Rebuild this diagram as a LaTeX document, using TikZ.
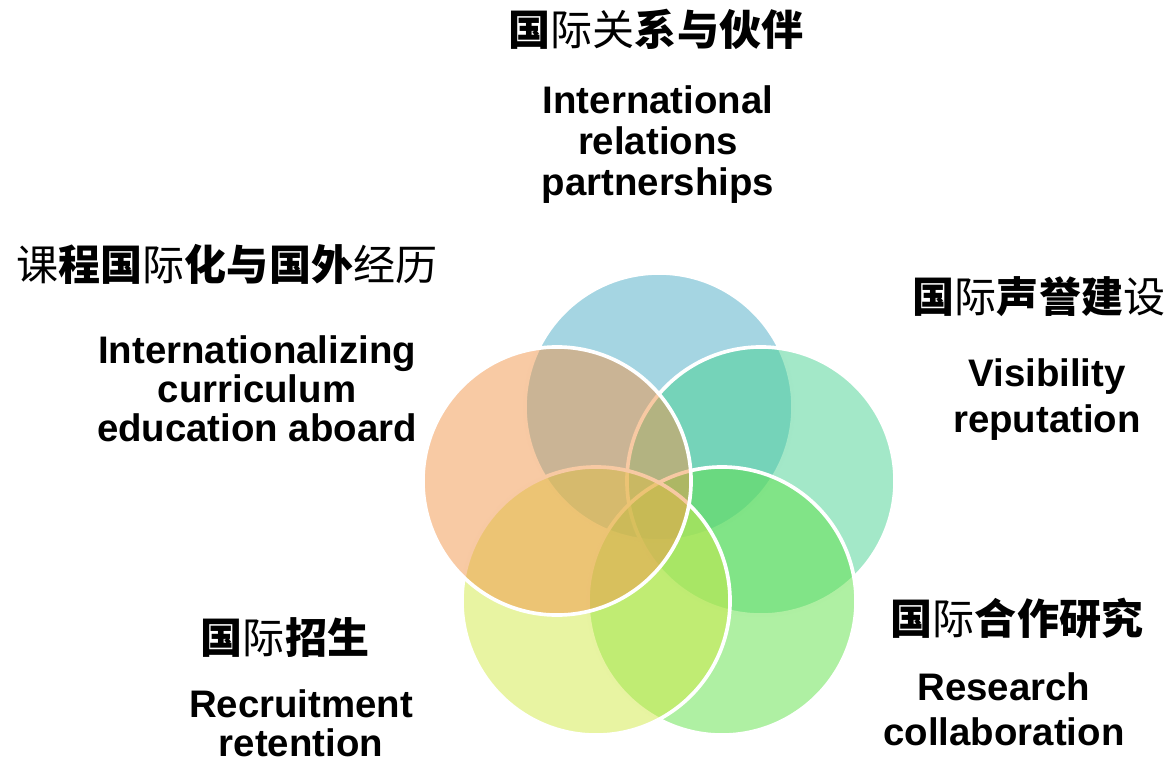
\documentclass[tikz,border=0pt]{standalone}
\usepackage{fontspec}
\setmainfont{Liberation Sans}
\newfontfamily\cjk{Noto Sans CJK SC}
\usepackage{xcolor}
\usepackage{tikz}
\definecolor{Aqua}{RGB}{ 75, 172, 198}
\definecolor{Mint}{RGB}{ 71, 209, 145}
\definecolor{Leaf}{RGB}{ 95, 225,  71}
\definecolor{Lime}{RGB}{209, 233,  69}
\definecolor{Peach}{RGB}{241, 149,  73}
\tikzstyle{bubble}=[circle,draw=white,line width=2.6pt,fill opacity=0.5,draw opacity=1,minimum size=6.7cm,inner sep=0pt]
\tikzstyle{zh}=[inner sep=0pt,font=\cjk\bfseries\fontsize{29.9}{30}\selectfont]
\tikzstyle{en}=[inner sep=0pt,align=center,anchor=base,font=\bfseries\fontsize{27.3}{27.7}\selectfont]
\newcommand\rgl[1]{{\mdseries #1}}

\begin{document}
\begin{tikzpicture}[x=0.025cm,y=-0.025cm]
\useasboundingbox (0,0) rectangle (1171,762);

% Circles
\node[bubble,fill=Aqua]  (relations)   at (659,407) {};
\node[bubble,fill=Mint]  (visibility)  at (761,481) {};
\node[bubble,fill=Leaf]  (research)    at (722,601) {};
\node[bubble,fill=Lime]  (recruitment) at (596,601) {};
\node[bubble,fill=Peach] (curriculum)  at (557,481) {};

% Labels (english nodes sit on the baseline of their last line)
\node[zh] (relations zh)   at (656,29)  {国\rgl{际关}系与伙伴};
\node[en] (relations en)   at (658,195) {International\\[1.4pt]relations\\[1.4pt]partnerships};
\node[zh] (curriculum zh)  at (227,264) {\rgl{课}程国\rgl{际}化与国外\rgl{经历}};
\node[en] (curriculum en)  at (257,441) {Internationalizing\\curriculum\\education aboard};
\node[zh] (visibility zh)  at (1039,297) {国\rgl{际}声誉建\rgl{设}};
\node[en] (visibility en)  at (1047,432) {Visibility\\[5pt]reputation};
\node[zh] (research zh)    at (1017,618) {国\rgl{际}合作研究};
\node[en] (research en)    at (1004,745) {Research\\[4.3pt]collaboration};
\node[zh] (recruitment zh) at (285,638) {国\rgl{际}招生};
\node[en] (recruitment en) at (301,756) {Recruitment\\retention};

\end{tikzpicture}
\end{document}
